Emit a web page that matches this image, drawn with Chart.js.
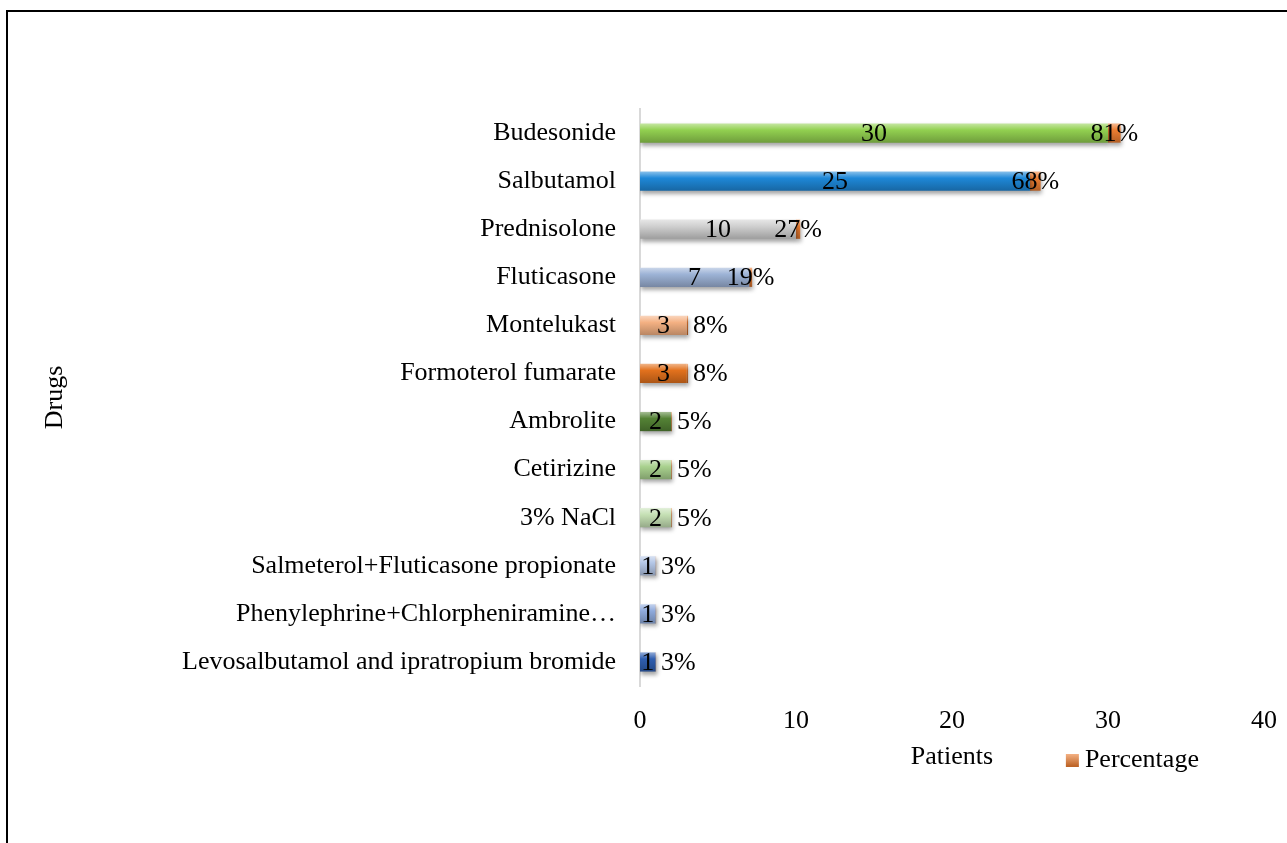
<!DOCTYPE html>
<html>
<head>
<meta charset="utf-8">
<script src="https://cdn.jsdelivr.net/npm/chart.js@4.4.1/dist/chart.umd.min.js"></script>
<style>
  html, body { margin: 0; padding: 0; background: #fff; overflow: hidden; }
  #wrap { position: relative; width: 1287px; height: 843px; overflow: hidden; }
  #frame { position: absolute; left: 6px; top: 10px; width: 1400px; height: 1000px;
           border-left: 2px solid #000; border-top: 2px solid #000; pointer-events: none; }
  canvas { position: absolute; left: 0; top: 0; }
</style>
</head>
<body>
<div id="wrap">
  <canvas id="drug-chart" width="1287" height="843"></canvas>
  <div id="frame"></div>
</div>
<script>
const drugs = [
    'Budesonide',
    'Salbutamol',
    'Prednisolone',
    'Fluticasone',
    'Montelukast',
    'Formoterol fumarate',
    'Ambrolite',
    'Cetirizine',
    '3% NaCl',
    'Salmeterol+Fluticasone propionate',
    'Phenylephrine+Chlorpheniramine\u2026',
    'Levosalbutamol and ipratropium bromide'
];
const patients = [30, 25, 10, 7, 3, 3, 2, 2, 2, 1, 1, 1];
const percentages = [0.81, 0.68, 0.27, 0.19, 0.08, 0.08, 0.05, 0.05, 0.05, 0.03, 0.03, 0.03];
const xTicks = [0, 10, 20, 30, 40];

// Excel-like per-point colours for the Patients series
const patientColors = [
    '#92D050', '#1E88D8', '#D0D0D0', '#9DB3D6', '#F4B183', '#E2711D',
    '#548235', '#A9D18E', '#C5E0B4', '#B4C7E7', '#8FAADC', '#2F5EB0'
];
const percentColor = '#ED7D31';
const FONT = "'Liberation Serif', 'Times New Roman', serif";
const FSIZE = 26;

function shade(hex, amt) {
    const n = parseInt(hex.slice(1), 16);
    let r = (n >> 16) & 255, g = (n >> 8) & 255, b = n & 255;
    const f = c => amt >= 0 ? Math.round(c + (255 - c) * amt) : Math.round(c * (1 + amt));
    return `rgb(${f(r)},${f(g)},${f(b)})`;
}

function barGradient(context, color) {
    const chart = context.chart;
    const yScale = chart.scales && chart.scales.y;
    if (context.type !== 'data' || !yScale) return color;
    const cy = yScale.getPixelForValue(context.dataIndex);
    if (!isFinite(cy)) return color;
    const g = chart.ctx.createLinearGradient(0, cy - 10, 0, cy + 10);
    g.addColorStop(0, shade(color, 0.5));
    g.addColorStop(0.35, color);
    g.addColorStop(1, shade(color, -0.25));
    return g;
}

const barShadow = {
    id: 'barShadow',
    beforeDatasetsDraw(chart) {
        const ctx = chart.ctx;
        ctx.save();
        ctx.shadowColor = 'rgba(0,0,0,0.35)';
        ctx.shadowBlur = 4;
        ctx.shadowOffsetX = 1;
        ctx.shadowOffsetY = 3;
    },
    afterDatasetsDraw(chart) {
        chart.ctx.restore();
    }
};

const valueLabels = {
    id: 'valueLabels',
    afterDatasetsDraw(chart) {
        const ctx = chart.ctx;
        const patMeta = chart.getDatasetMeta(0);
        const pctMeta = chart.getDatasetMeta(1);
        ctx.save();
        ctx.font = `${FSIZE}px ${FONT}`;
        ctx.fillStyle = '#000';
        ctx.textBaseline = 'middle';
        patMeta.data.forEach((bar, i) => {
            ctx.textAlign = 'center';
            ctx.fillText(String(patients[i]), (bar.x + bar.base) / 2, bar.y + 1);
        });
        pctMeta.data.forEach((bar, i) => {
            const txt = Math.round(percentages[i] * 100) + '%';
            if (patients[i] < 5) {
                ctx.textAlign = 'left';
                ctx.fillText(txt, bar.x + 5, bar.y + 1);
            } else {
                ctx.textAlign = 'center';
                ctx.fillText(txt, (bar.x + bar.base) / 2, bar.y + 1);
            }
        });
        ctx.restore();
    }
};

const sideLegend = {
    id: 'sideLegend',
    afterDraw(chart) {
        const ctx = chart.ctx;
        const x = chart.scales.x.getPixelForValue(27.3);
        const y = 760;
        ctx.save();
        const g = ctx.createLinearGradient(0, y - 6, 0, y + 6);
        g.addColorStop(0, shade(percentColor, 0.4));
        g.addColorStop(1, shade(percentColor, -0.2));
        ctx.fillStyle = g;
        ctx.fillRect(x, y - 6, 13, 13);
        ctx.font = `${FSIZE}px ${FONT}`;
        ctx.fillStyle = '#000';
        ctx.textAlign = 'left';
        ctx.textBaseline = 'middle';
        ctx.fillText(chart.data.datasets[1].label, x + 19, y);
        ctx.restore();
    }
};

const ctx = document.getElementById('drug-chart').getContext('2d');
new Chart(ctx, {
    type: 'bar',
    data: {
        labels: drugs,
        datasets: [{
            label: 'Patients',
            data: patients,
            backgroundColor: c => barGradient(c, patientColors[c.dataIndex]),
            borderWidth: 0,
            categoryPercentage: 1,
            barPercentage: 0.4
        }, {
            label: 'Percentage',
            data: percentages,
            backgroundColor: c => barGradient(c, percentColor),
            borderWidth: 0,
            categoryPercentage: 1,
            barPercentage: 0.4
        }]
    },
    options: {
        indexAxis: 'y',
        responsive: false,
        animation: false,
        layout: {
            padding: { left: 40, right: 23, top: 109, bottom: 70 }
        },
        scales: {
            x: {
                stacked: true,
                min: xTicks[0],
                max: xTicks[xTicks.length - 1],
                grid: { display: false, drawTicks: false },
                border: { display: false },
                ticks: {
                    stepSize: 10,
                    padding: 20,
                    color: '#000',
                    font: { family: FONT, size: FSIZE }
                },
                title: {
                    display: true,
                    text: 'Patients',
                    color: '#000',
                    font: { family: FONT, size: FSIZE },
                    padding: { top: 0, bottom: 0 }
                },
                afterFit: scale => {
                    scale.height = 87;
                    scale.paddingLeft = 0;
                    scale.paddingRight = 0;
                }
            },
            y: {
                stacked: true,
                grid: { display: false, drawTicks: false },
                border: { display: true, color: '#D9D9D9', width: 2 },
                ticks: {
                    padding: 24,
                    autoSkip: false,
                    color: '#000',
                    font: { family: FONT, size: FSIZE }
                },
                title: {
                    display: true,
                    text: 'Drugs',
                    color: '#000',
                    font: { family: FONT, size: FSIZE },
                    padding: 0
                },
                afterFit: scale => {
                    scale.width = 600;
                    scale.paddingTop = 0;
                    scale.paddingBottom = 0;
                }
            }
        },
        plugins: {
            legend: { display: false },
            tooltip: { enabled: false }
        }
    },
    plugins: [barShadow, valueLabels, sideLegend]
});
</script>
</body>
</html>
